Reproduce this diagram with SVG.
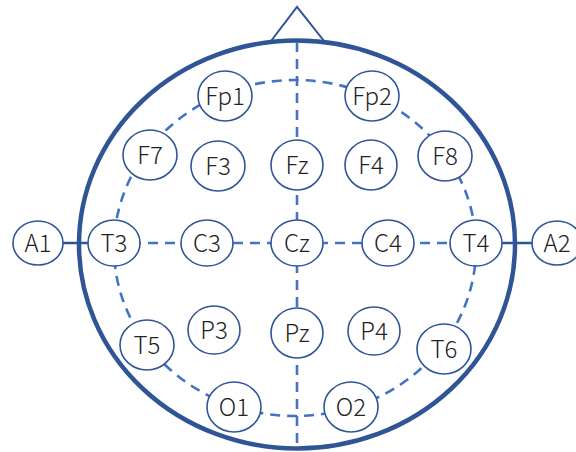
<svg xmlns="http://www.w3.org/2000/svg" width="576" height="452" viewBox="0 0 576 452">
<style>
.n ellipse{fill:#fff;stroke:#2F5597;stroke-width:1.6}
.n text{font-family:"Noto Sans CJK JP","Noto Sans",sans-serif;font-size:24px;font-weight:300;fill:#222;text-anchor:middle;dominant-baseline:central}
.d{fill:none;stroke:#4472C4;stroke-width:2.6;stroke-dasharray:10 7}
</style>
<rect width="576" height="452" fill="#fff"/>
<g id="head">
<polygon points="271,41 297,7 324,41" fill="#fff" stroke="#2F5597" stroke-width="2"/>
<ellipse cx="297" cy="244.5" rx="218" ry="204" fill="none" stroke="#2F5597" stroke-width="4.5"/>
</g>
<g id="connectors">
<ellipse class="d" cx="295" cy="248" rx="181" ry="168"/>
<line class="d" x1="297" y1="42" x2="297" y2="447"/>
<line class="d" x1="114" y1="243" x2="476" y2="243"/>
<line x1="38" y1="243" x2="114" y2="243" stroke="#2F5597" stroke-width="2.6"/>
<line x1="476" y1="243" x2="557" y2="243" stroke="#2F5597" stroke-width="2.6"/>
</g>
<g id="Fp1" class="n"><ellipse cx="225" cy="96" rx="27" ry="25"/><text x="225" y="94">Fp1</text></g>
<g id="Fp2" class="n"><ellipse cx="372" cy="96" rx="27" ry="25"/><text x="372" y="94">Fp2</text></g>
<g id="F7" class="n"><ellipse cx="150" cy="155" rx="27" ry="25"/><text x="150" y="153">F7</text></g>
<g id="F3" class="n"><ellipse cx="218" cy="166" rx="27" ry="25"/><text x="218" y="164">F3</text></g>
<g id="Fz" class="n"><ellipse cx="297" cy="165" rx="26" ry="25"/><text x="297" y="163">Fz</text></g>
<g id="F4" class="n"><ellipse cx="371" cy="165" rx="26" ry="25"/><text x="371" y="163">F4</text></g>
<g id="F8" class="n"><ellipse cx="445" cy="156" rx="27" ry="25"/><text x="445" y="154">F8</text></g>
<g id="A1" class="n"><ellipse cx="38" cy="243" rx="25" ry="22"/><text x="38" y="241">A1</text></g>
<g id="T3" class="n"><ellipse cx="114" cy="243" rx="26" ry="23"/><text x="114" y="241">T3</text></g>
<g id="C3" class="n"><ellipse cx="207" cy="243" rx="26" ry="23"/><text x="207" y="241">C3</text></g>
<g id="Cz" class="n"><ellipse cx="297" cy="243" rx="26" ry="23"/><text x="297" y="241">Cz</text></g>
<g id="C4" class="n"><ellipse cx="388" cy="243" rx="26" ry="23"/><text x="388" y="241">C4</text></g>
<g id="T4" class="n"><ellipse cx="476" cy="243" rx="26" ry="23"/><text x="476" y="241">T4</text></g>
<g id="A2" class="n"><ellipse cx="557" cy="243" rx="25" ry="22"/><text x="557" y="241">A2</text></g>
<g id="T5" class="n"><ellipse cx="147" cy="345" rx="27" ry="25"/><text x="147" y="343">T5</text></g>
<g id="P3" class="n"><ellipse cx="214" cy="330" rx="26" ry="24"/><text x="214" y="328">P3</text></g>
<g id="Pz" class="n"><ellipse cx="297" cy="333" rx="26" ry="25"/><text x="297" y="331">Pz</text></g>
<g id="P4" class="n"><ellipse cx="374" cy="331" rx="26" ry="24"/><text x="374" y="329">P4</text></g>
<g id="T6" class="n"><ellipse cx="444" cy="349" rx="27" ry="25"/><text x="444" y="347">T6</text></g>
<g id="O1" class="n"><ellipse cx="234" cy="407" rx="27" ry="25"/><text x="234" y="405">O1</text></g>
<g id="O2" class="n"><ellipse cx="351" cy="407" rx="27" ry="25"/><text x="351" y="405">O2</text></g>
</svg>
